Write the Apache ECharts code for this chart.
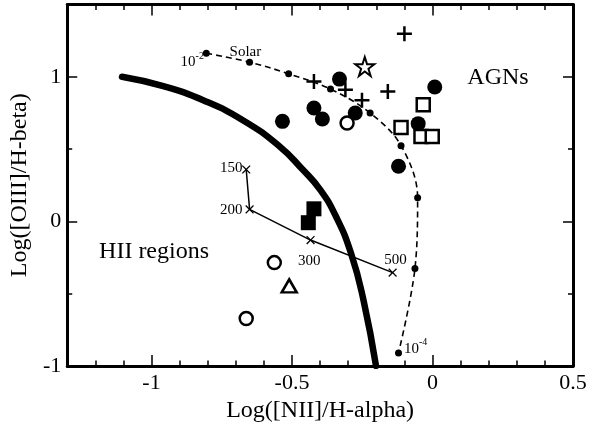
<!DOCTYPE html>
<html>
<head>
<meta charset="utf-8">
<script src="https://cdn.jsdelivr.net/npm/echarts@6/dist/echarts.min.js"></script>
<style>
html,body{margin:0;padding:0;background:#fff;}
#bpt{width:595px;height:435px;}
</style>
</head>
<body>
<div id="bpt"></div>
<script>
// 数据
var demarcation = [[-1.105,1.0],[-0.958,0.935],[-0.816,0.838],[-0.675,0.70],[-0.545,0.52],[-0.463,0.36],[-0.40,0.22],[-0.345,0.04],[-0.29,-0.22],[-0.245,-0.55],[-0.201,-1.0]];
var metalTrack = [[-0.805,1.163],[-0.651,1.101],[-0.512,1.021],[-0.363,0.915],[-0.222,0.75],[-0.112,0.524],[-0.053,0.163],[-0.0625,-0.326],[-0.121,-0.91]];
var tempTrack = [[-0.663,0.359],[-0.651,0.083],[-0.434,-0.129],[-0.142,-0.354]];
var filledCircles = [[-0.534,0.692],[-0.422,0.784],[-0.392,0.708],[-0.331,0.984],[-0.275,0.75],[0.008,0.929],[-0.051,0.676],[-0.121,0.381]];
var openCircles = [[-0.304,0.681],[-0.563,-0.285],[-0.663,-0.671]];
var openTriangles = [[-0.51,-0.446]];
var filledSquares = [[-0.422,0.087],[-0.442,-0.009]];
var openSquares = [[-0.033,0.807],[-0.112,0.65],[-0.041,0.588],[-0.001,0.588]];
var openStars = [[-0.241,1.071]];
var crosses = [[-0.1,1.297],[-0.422,0.968],[-0.31,0.91],[-0.159,0.899],[-0.251,0.837]];

var regionLabels = [{name:'HII regions',value:[-0.991,-0.207]},{name:'AGNs',value:[0.233,0.993]}];
var trackLabels = [
	{name:'Solar',value:[-0.666,1.174]},
	{name:'10{sup|-2}',value:[-0.855,1.10]},
	{name:'10{sup|-4}',value:[-0.06,-0.88]},
	{name:'150',value:[-0.716,0.372]},
	{name:'200',value:[-0.716,0.078]},
	{name:'300',value:[-0.439,-0.274]},
	{name:'500',value:[-0.132,-0.269]}
];

var xLabels = [-1,-0.5,0,0.5];
var xMajor = [-1,-0.5,0];
var xMinor = [-1.2,-1.1,-0.9,-0.8,-0.7,-0.6,-0.4,-0.3,-0.2,-0.1,0.1,0.2,0.3,0.4];
var yLabels = [-1,0,1];
var yMajor = [0,1];
var yMinor = [-0.5,0.5];

var font = 'Liberation Serif';
var plusPath = 'path://M5,0H7V5H12V7H7V12H5V7H0V5H5Z';
var thinPlus = 'path://M5.3,0H6.7V5.3H12V6.7H6.7V12H5.3V6.7H0V5.3H5.3Z';
var starPath = 'path://M50,0L61.8,35.4L98.9,35.4L68.8,57.3L80.3,92.7L50,70.8L19.7,92.7L31.2,57.3L1.1,35.4L38.2,35.4Z';

function axis(dim,pos,ticks,len,labels,lineShow,name){
	var a = {
		type:'value',
		position:pos,
		min: dim=='x' ? -1.3 : -1,
		max: dim=='x' ? 0.5 : 1.5,
		splitLine:{show:false},
		axisLine:{show:lineShow,onZero:false,lineStyle:{color:'#000',width:3}},
		axisTick:{show:true,inside:true,length:len,customValues:ticks,lineStyle:{color:'#000',width:1.5}},
		axisLabel:{show:!!labels,customValues:labels||ticks,color:'#000',fontFamily:font,fontSize:22,margin:6}
	};
	if(name){
		a.name = name;
		a.nameLocation = 'middle';
		a.nameTextStyle = {color:'#000',fontFamily:font,fontSize:24};
		a.nameGap = dim=='x' ? 30 : 32;
	}
	return a;
}

function dots(name,symbol,size,data,style){
	return {
		name:name,type:'scatter',symbol:symbol,symbolSize:size,
		data:data,itemStyle:Object.assign({opacity:1},style)
	};
}

function texts(name,data,size){
	return {
		name:name,type:'scatter',symbolSize:1,
		data:data,itemStyle:{color:'rgba(0,0,0,0)',opacity:1},
		label:{show:true,position:'inside',formatter:'{b}',color:'#000',opacity:1,fontFamily:font,fontSize:size,
			rich:{sup:{fontFamily:font,fontSize:10,color:'#000',padding:[0,0,12,0]}}}
	};
}

var option = {
	animation:false,
	backgroundColor:'#fff',
	grid:{left:63.5,right:22,top:4.5,bottom:69,containLabel:false},
	xAxis:[
		axis('x','bottom',xMajor,11,xLabels,true,'Log([NII]/H-alpha)'),
		axis('x','bottom',xMinor,5.5,null,false),
		axis('x','top',xMajor,11,null,true),
		axis('x','top',xMinor,5.5,null,false)
	],
	yAxis:[
		axis('y','left',yMajor,10,yLabels,true,'Log([OIII]/H-beta)'),
		axis('y','left',yMinor,5,null,false),
		axis('y','right',yMajor,10,null,true),
		axis('y','right',yMinor,5,null,false)
	],
	series:[
		{
			name:'demarcation',type:'line',smooth:true,showSymbol:false,
			data:demarcation,
			lineStyle:{color:'#000',width:6.5,cap:'round'}
		},
		{
			name:'metallicity',type:'line',smooth:0.35,
			symbol:'circle',symbolSize:7,
			data:metalTrack,
			itemStyle:{color:'#000'},
			lineStyle:{color:'#000',width:1.6,type:[6,4]}
		},
		{
			name:'temperature',type:'line',
			symbol:thinPlus,symbolSize:11,symbolRotate:45,
			data:tempTrack,
			itemStyle:{color:'#000'},
			lineStyle:{color:'#000',width:1.5}
		},
		dots('filled circles','circle',15,filledCircles,{color:'#000'}),
		dots('open circles','circle',13,openCircles,{color:'#fff',borderColor:'#000',borderWidth:2.5}),
		dots('open triangles','triangle',[15,13],openTriangles,{color:'#fff',borderColor:'#000',borderWidth:2.5}),
		dots('filled squares','rect',15,filledSquares,{color:'#000'}),
		dots('open squares','rect',13,openSquares,{color:'#fff',borderColor:'#000',borderWidth:2.5}),
		dots('open stars',starPath,19,openStars,{color:'#fff',borderColor:'#000',borderWidth:2}),
		dots('crosses',plusPath,15,crosses,{color:'#000'}),
		texts('regions',regionLabels,24),
		texts('tracks',trackLabels,15)
	]
};

var myChart = echarts.init(document.getElementById('bpt'));
myChart.setOption(option);
</script>
</body>
</html>
